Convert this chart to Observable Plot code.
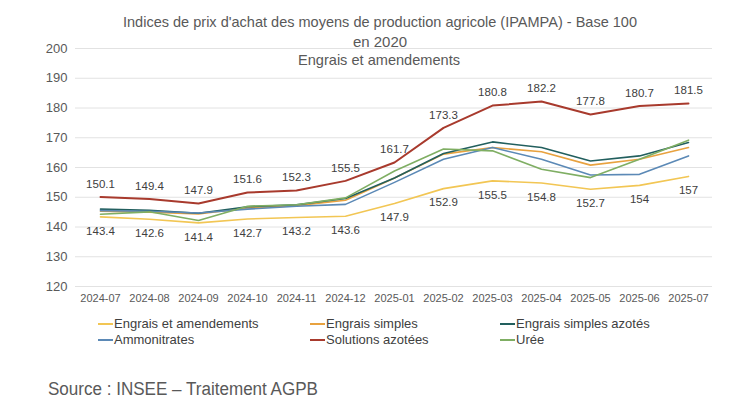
<!DOCTYPE html>
<html>
<head>
<meta charset="utf-8">
<script src="https://cdn.jsdelivr.net/npm/d3@7"></script>
<script src="https://cdn.jsdelivr.net/npm/@observablehq/plot@0.6"></script>
<style>
  html, body { margin: 0; padding: 0; background: #fff; }
  #wrap { position: relative; width: 747px; height: 407px; overflow: hidden; font-family: "Liberation Sans", Arial, sans-serif; }
  #chart { position: absolute; left: 0; top: 0; }
  .ttl { position: absolute; left: 0; top: 0; }
  .leg { position: absolute; font-size: 13px; color: #404040; white-space: nowrap; display: flex; align-items: center; }
  .leg span.sw { display: inline-block; width: 15px; height: 2px; margin-right: 1px; }
  #source { position: absolute; left: 0; top: 370px; }
</style>
</head>
<body>
<div id="wrap">
  <div id="chart"></div>
  <svg class="ttl" width="747" height="80">
    <text x="380" y="27" text-anchor="middle" font-size="15" fill="#595959" textLength="514" lengthAdjust="spacingAndGlyphs" font-family="Liberation Sans, Arial">Indices de prix d'achat des moyens de production agricole (IPAMPA) - Base 100</text>
    <text x="380" y="47" text-anchor="middle" font-size="15" fill="#595959" font-family="Liberation Sans, Arial">en 2020</text>
    <text x="379" y="65" text-anchor="middle" font-size="15" fill="#595959" textLength="162" lengthAdjust="spacingAndGlyphs" font-family="Liberation Sans, Arial">Engrais et amendements</text>
  </svg>
  <div id="legend"></div>
  <svg id="source" width="747" height="35">
    <text x="48" y="25" font-size="18" fill="#595959" textLength="270" lengthAdjust="spacingAndGlyphs" font-family="Liberation Sans, Arial">Source : INSEE – Traitement AGPB</text>
  </svg>
</div>
<script>
const months = ["2024-07","2024-08","2024-09","2024-10","2024-11","2024-12","2025-01","2025-02","2025-03","2025-04","2025-05","2025-06","2025-07"];
const engraisAmendements = [143.4,142.6,141.4,142.7,143.2,143.6,147.9,152.9,155.5,154.8,152.7,154,157];
const engraisSimples = [145.3,145.0,144.4,146.4,147.2,149.0,156.5,164.5,166.7,165.3,160.8,162.8,166.7];
const engraisSimplesAzotes = [146.0,145.6,144.6,146.8,147.5,149.6,156.5,164.7,168.6,166.7,162.2,163.9,168.4];
const ammonitrates = [145.5,145.3,144.7,146.0,147.0,147.6,155.0,162.8,166.7,162.8,157.5,157.7,163.9];
const solutionsAzotees = [150.1,149.4,147.9,151.6,152.3,155.5,161.7,173.3,180.8,182.2,177.8,180.7,181.5];
const uree = [144.3,145.1,142.2,147.0,147.5,149.8,158.8,166.2,165.6,159.4,156.6,162.8,169.2];
const yTicks = [120,130,140,150,160,170,180,190,200];

const seriesNames = ["Engrais et amendements","Engrais simples","Engrais simples azotés","Ammonitrates","Solutions azotées","Urée"];
const seriesValues = [engraisAmendements, engraisSimples, engraisSimplesAzotes, ammonitrates, solutionsAzotees, uree];
const seriesColors = ["#f2c654","#e8a23f","#225f5e","#5b89b6","#a83a2d","#7fae63"];

const rows = [];
seriesNames.forEach((name, i) => seriesValues[i].forEach((v, j) => rows.push({series: name, month: months[j], value: v})));

const labelsTop = months.map((m, j) => ({month: m, value: solutionsAzotees[j]}));
const labelsBottom = months.map((m, j) => ({month: m, value: engraisAmendements[j]}));

const chart = Plot.plot({
  width: 747,
  height: 310,
  marginTop: 48,
  marginBottom: 24,
  marginLeft: 75,
  marginRight: 35,
  style: {fontFamily: "Liberation Sans, Arial, sans-serif", color: "#595959", background: "transparent"},
  x: {type: "point", domain: months, padding: 0.5, label: null},
  y: {domain: [120, 200], ticks: yTicks, label: null},
  color: {domain: seriesNames, range: seriesColors},
  marks: [
    Plot.gridY(yTicks, {stroke: "#e2e2e2", strokeOpacity: 1, strokeWidth: 1}),
    Plot.axisY(yTicks, {tickSize: 0, tickPadding: 8, fontSize: 13, fill: "#595959", label: null}),
    Plot.axisX({tickSize: 0, tickPadding: 8, fontSize: 11, fill: "#595959", label: null}),
    Plot.line(rows, {x: "month", y: "value", stroke: "series", z: "series", strokeWidth: d => d.series === "Solutions azotées" ? 2 : 1.6, curve: "linear"}),
    Plot.text(labelsTop, {x: "month", y: "value", text: d => String(d.value), dy: -13, fontSize: 11.5, fill: "#404040"}),
    Plot.text(labelsBottom, {x: "month", y: "value", text: d => String(d.value), dy: 14, fontSize: 11.5, fill: "#404040"})
  ]
});
document.getElementById("chart").appendChild(chart);

const legendPos = [[98,324],[310,324],[500,324],[98,340],[310,340],[500,340]];
const legend = document.getElementById("legend");
seriesNames.forEach((name, i) => {
  const d = document.createElement("div");
  d.className = "leg";
  d.style.left = legendPos[i][0] + "px";
  d.style.top = (legendPos[i][1] - 8) + "px";
  d.innerHTML = `<span class="sw" style="background:${seriesColors[i]}"></span>${name}`;
  legend.appendChild(d);
});
</script>
</body>
</html>
